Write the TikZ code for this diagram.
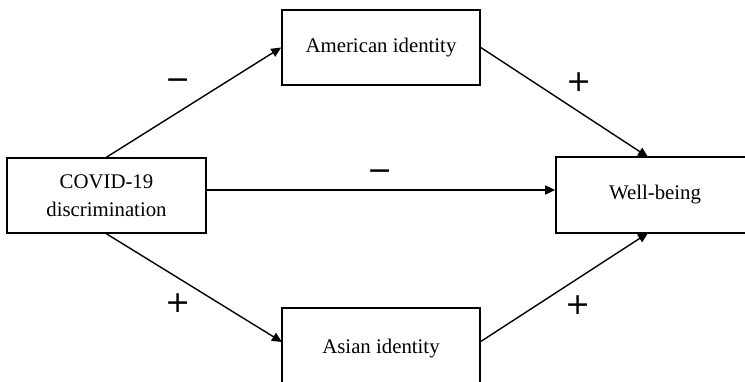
\documentclass[tikz,border=0pt]{standalone}
\usepackage{fontspec}
\setmainfont{Liberation Serif}
\newfontfamily\signfont{DejaVu Sans}
\usetikzlibrary{arrows.meta}
\begin{document}
\begin{tikzpicture}[x=1pt,y=-1pt,
  box/.style={draw, line width=1.6pt, inner sep=0pt, align=center, font=\fontsize{20.8}{27.5}\selectfont},
  arr/.style={line width=1.4pt, -{Triangle[length=10pt,width=9pt]}},
  sign/.style={font=\fontsize{30}{30}\selectfont\signfont}]
\useasboundingbox (0,0) rectangle (745,381);
\clip (0,0) rectangle (745,381);
\fill[white] (0,0) rectangle (745,381);
\node[box, minimum width=198pt, minimum height=75pt] (am) at (381,47.5) {American identity};
\node[box, minimum width=199pt, minimum height=75pt] (cov) at (106.5,195.5) {COVID-19\\discrimination};
\node[box, minimum width=198pt, minimum height=76pt] (wb) at (655,195) {Well-being};
\node[box, minimum width=198pt, minimum height=82pt] (as) at (381,349) {Asian identity};
\coordinate (wbn) at (648,157);
\coordinate (wbs) at (648,233);
\coordinate (asw) at (282,342);
\coordinate (ase) at (480,342);
\draw[arr] (cov.north) -- (am.west);
\draw[arr] (am.east) -- (wbn);
\draw[arr] ([yshift=5.5pt]cov.east) -- ([yshift=5pt]wb.west);
\draw[arr] (cov.south) -- (asw);
\draw[arr] (ase) -- (wbs);
\node[sign] (s1) at (178,84) {−};
\node[sign] (s2) at (579,82) {+};
\node[sign] (s3) at (380,175) {−};
\node[sign] (s4) at (178,303) {+};
\node[sign] (s5) at (578,305) {+};
\end{tikzpicture}
\end{document}
